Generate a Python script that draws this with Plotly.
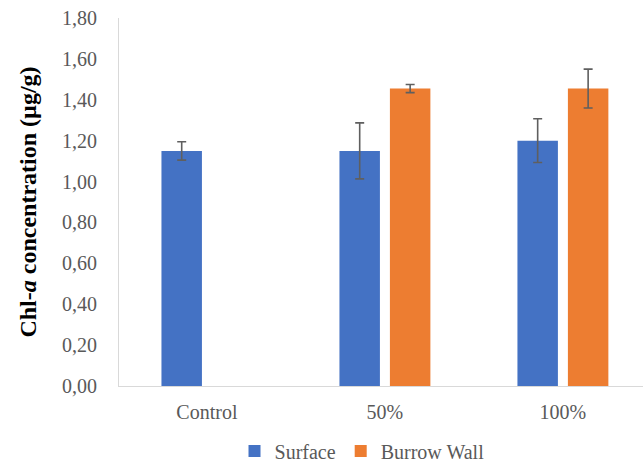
import plotly.graph_objects as go

# Chlorophyll-a concentration by treatment
categories = ["Control", "50%", "100%"]
surface = [1.15, 1.15, 1.20]
surface_err = [0.045, 0.137, 0.107]
burrow_wall = [None, 1.455, 1.455]
burrow_wall_err = [0, 0.02, 0.095]

tick_vals = [0, 0.2, 0.4, 0.6, 0.8, 1.0, 1.2, 1.4, 1.6, 1.8]

serif = "Liberation Serif"
grey_text = "#595959"

fig = go.Figure()
fig.add_trace(go.Bar(
    name="Surface", x=categories, y=surface,
    marker=dict(color="#4472C4", line=dict(width=0)),
    error_y=dict(type="data", array=surface_err, color="#5f5f5f",
                 thickness=1.6, width=4.5),
))
fig.add_trace(go.Bar(
    name="Burrow Wall", x=categories, y=burrow_wall,
    marker=dict(color="#ED7D31", line=dict(width=0)),
    error_y=dict(type="data", array=burrow_wall_err, color="#5f5f5f",
                 thickness=1.6, width=4.5),
))

fig.update_layout(
    width=643, height=462,
    margin=dict(l=119, r=0, t=18, b=76, autoexpand=False),
    paper_bgcolor="white", plot_bgcolor="white",
    barmode="group", bargap=0.433, bargroupgap=0.198,
    separators=", ",
    font=dict(family=serif, size=20, color=grey_text),
    showlegend=True,
    legend=dict(orientation="h", x=0.563, xanchor="center", xref="container",
                y=0.024, yanchor="middle", yref="container",
                font=dict(family=serif, size=20, color=grey_text),
                itemwidth=30, traceorder="normal"),
    xaxis=dict(
        range=[-0.494, 2.45], showline=True, linecolor="#d9d9d9",
        linewidth=1, showgrid=False, ticks="", ticklabelstandoff=8,
        tickfont=dict(family=serif, size=20, color=grey_text),
    ),
    yaxis=dict(
        range=[0, 1.8], tickvals=tick_vals, tickformat=".2f",
        showline=True, linecolor="#d9d9d9", linewidth=1,
        showgrid=False, zeroline=False, ticks="", ticklabelstandoff=17,
        tickfont=dict(family=serif, size=20, color=grey_text),
        title=dict(
            text="<b>Chl-<i>a</i> concentration (µg/g)</b>",
            font=dict(family=serif, size=24, color="black"),
            standoff=18,
        ),
    ),
)

fig.write_html("out.html")
